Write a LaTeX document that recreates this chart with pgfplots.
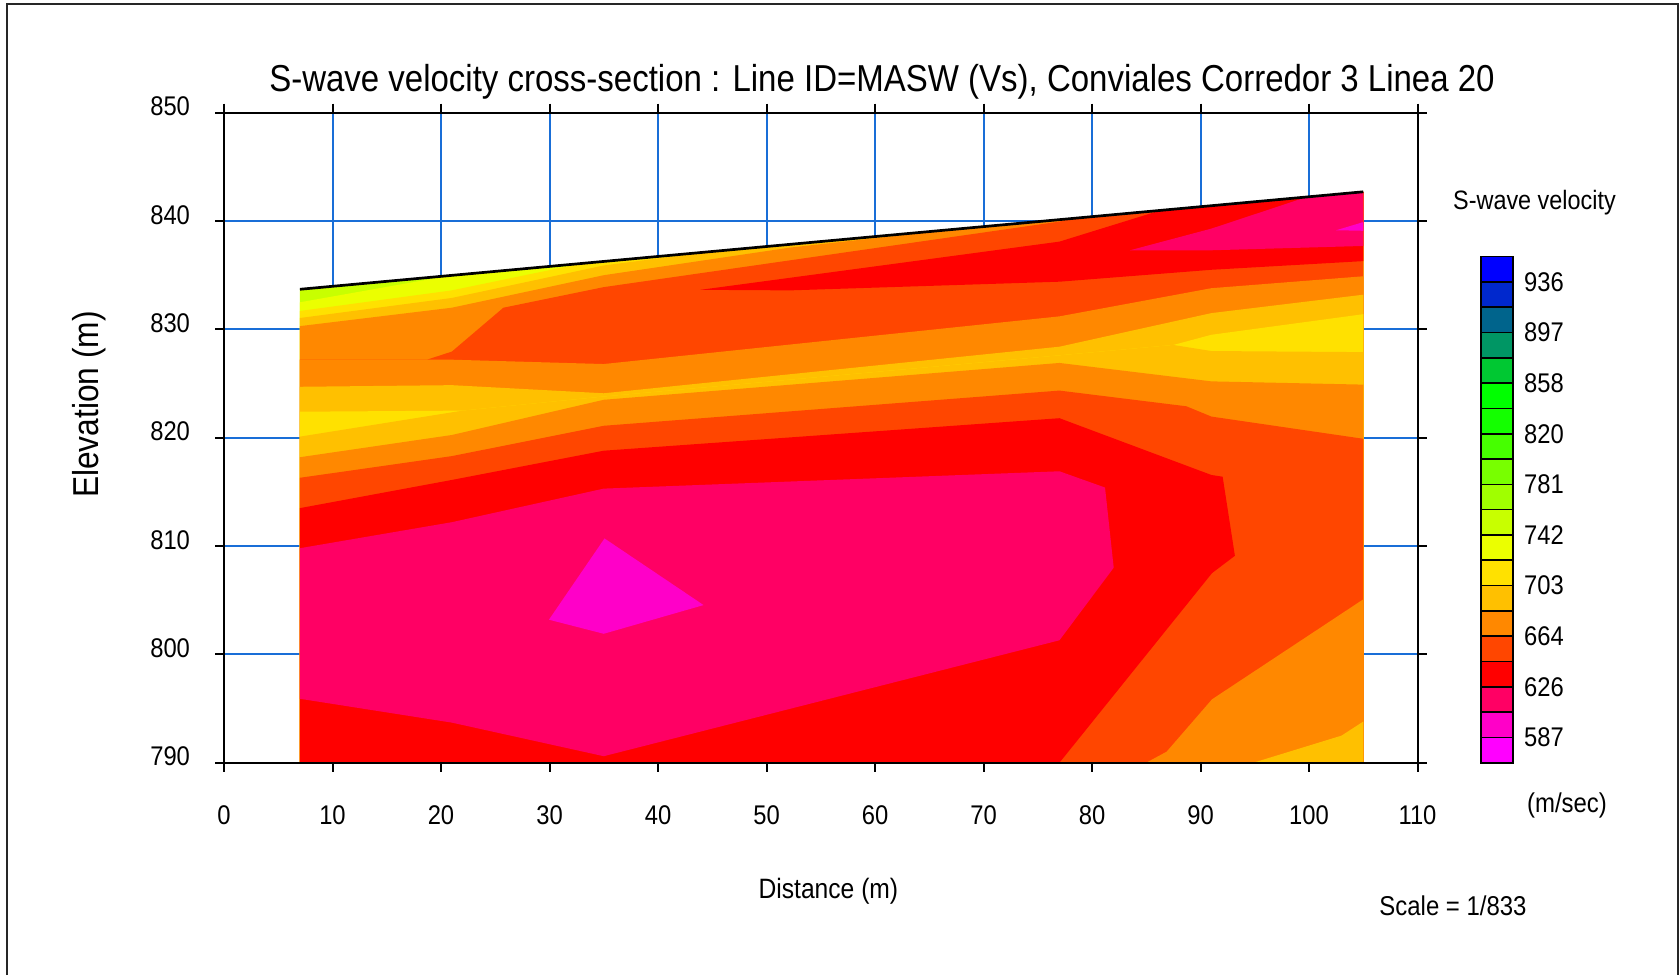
\documentclass[border=0pt]{standalone}
\usepackage{fontspec}
\setmainfont{Liberation Sans}[FakeStretch=0.88]
\usepackage{pgfplots}
\pgfplotsset{compat=1.18}

% velocity palette, fastest (blue) to slowest (magenta)
\definecolor{v01}{RGB}{0,0,255}
\definecolor{v02}{RGB}{0,40,205}
\definecolor{v03}{RGB}{0,100,140}
\definecolor{v04}{RGB}{0,150,100}
\definecolor{v05}{RGB}{0,200,50}
\definecolor{v06}{RGB}{0,255,0}
\definecolor{v07}{RGB}{20,255,0}
\definecolor{v08}{RGB}{70,255,0}
\definecolor{v09}{RGB}{120,255,0}
\definecolor{v10}{RGB}{160,255,0}
\definecolor{v11}{RGB}{200,255,0}
\definecolor{v12}{RGB}{235,255,0}
\definecolor{v13}{RGB}{255,225,0}
\definecolor{v14}{RGB}{255,192,0}
\definecolor{v15}{RGB}{255,136,0}
\definecolor{v16}{RGB}{255,70,0}
\definecolor{v17}{RGB}{255,0,0}
\definecolor{v18}{RGB}{255,0,100}
\definecolor{v19}{RGB}{255,0,200}
\definecolor{v20}{RGB}{255,0,255}
\definecolor{gridblue}{RGB}{25,110,215}

\newcommand{\tickfont}{\fontsize{13.5}{15}\selectfont}

\begin{document}
\begin{tikzpicture}
\path[use as bounding box] (0,0) rectangle (840pt,487.5pt);
\draw[line width=1pt, black!85] (3.35pt,0) -- (3.35pt,485.5pt) -- (839.1pt,485.5pt) -- (839.1pt,0);

\begin{axis}[
  at={(112pt,106.15pt)}, anchor=south west,
  scale only axis, width=596.75pt, height=325pt,
  clip=false,
  xmin=0, xmax=110, ymin=790, ymax=850,
  xtick={0,10,...,110}, ytick={790,800,...,850},
  grid=major,
  major grid style={color=gridblue, line width=1pt},
  axis line style={line width=1pt},
  tick align=outside, major tick length=4.5pt,
  tick style={black, line width=1pt},
  ticklabel style={font=\tickfont},
  xticklabel style={yshift=-13.6pt},
  yticklabel style={xshift=-9pt, yshift=3pt},
  /pgf/number format/assume math mode=true,
  /pgf/number format/1000 sep={},
]
% layered bands: each fills from its upper boundary down to the base
\addplot[draw=none, fill=v11] coordinates {(7,790) (7,833.7) (105,842.7) (105,790)} -- cycle;
\addplot[draw=none, fill=v12] coordinates {(7,832.5) (21,834.99) (105,842.7) (105,790) (7,790)} -- cycle;
\addplot[draw=none, fill=v13] coordinates {(7,831.7) (21,833.6) (33,836.09) (105,842.7) (105,790) (7,790)} -- cycle;
\addplot[draw=none, fill=v14] coordinates {(7,831.05) (21,832.9) (35,835.9) (45,837.19) (105,842.7) (105,790) (7,790)} -- cycle;
\addplot[draw=none, fill=v15] coordinates {(7,830.3) (21,832.0) (35,835.0) (52.17,837.55) (68,839.3) (105,842.7) (105,790) (7,790)} -- cycle;
\addplot[draw=none, fill=v16] coordinates {(7,827.2) (18.7,827.2) (21,827.95) (25.75,832.0) (35,833.9) (77,839.95) (78,840.22) (105,842.7) (105,790) (7,790)} -- cycle;
\addplot[draw=none, fill=v15] coordinates {(7,827.2) (21,827.2) (35,826.8) (77,831.2) (91,833.8) (105,834.9) (105,790) (7,790)} -- cycle;
\addplot[draw=none, fill=v14] coordinates {(7,824.7) (21,824.85) (35,824.1) (77,828.4) (91,831.5) (105,833.2) (105,790) (7,790)} -- cycle;
\addplot[draw=none, fill=v13] coordinates {(7,822.4) (22,822.5) (35,823.8) (77,827.6) (87.5,828.56) (91,829.5) (105,831.4) (105,790) (7,790)} -- cycle;
\addplot[draw=none, fill=v14] coordinates {(7,820.1) (22,822.5) (35,823.8) (77,827.6) (87.5,828.56) (91,828.0) (105,827.9) (105,790) (7,790)} -- cycle;
\addplot[draw=none, fill=v15] coordinates {(7,818.2) (21,820.25) (35,823.5) (77,826.9) (91,825.2) (105,824.9) (105,790) (7,790)} -- cycle;
\addplot[draw=none, fill=v16] coordinates {(7,816.3) (21,818.3) (35,821.1) (77,824.35) (88.7,822.9) (91,821.95) (105,819.9) (105,790) (7,790)} -- cycle;
% low-velocity body and its rim
\addplot[draw=none, fill=v17] coordinates {(7,813.5) (21,816.1) (35,818.8) (77,821.8) (91,816.56) (92.04,816.4) (93.17,809.1) (91.06,807.5) (77,790) (7,790)} -- cycle;
\addplot[draw=none, fill=v18] coordinates {(7,809.8) (21,812.2) (35,815.3) (77,816.9) (81.2,815.4) (82,808) (77,801.3) (35,790.6) (21,793.7) (7,795.9)} -- cycle;
\addplot[draw=none, fill=v19] coordinates {(35.07,810.7) (44.2,804.55) (35,801.9) (29.95,803.2)} -- cycle;
% faster material at the base on the east end
\addplot[draw=none, fill=v15] coordinates {(85,790) (86.88,791.02) (91.06,795.85) (105,805.08) (105,790)} -- cycle;
\addplot[draw=none, fill=v14] coordinates {(94.87,790) (103,792.5) (105,793.8) (105,790)} -- cycle;
% shallow slow wedge on the east end
\addplot[draw=none, fill=v17] coordinates {(43.9,833.65) (77,838.1) (86.3,840.98) (105,842.7) (105,836.3) (91,835.5) (77,834.4) (52.17,833.6)} -- cycle;
\addplot[draw=none, fill=v18] coordinates {(83.5,837.3) (91,839.3) (99.8,842.22) (105,842.7) (105,837.7) (91,837.3)} -- cycle;
\addplot[draw=none, fill=v19] coordinates {(102.5,839.15) (105,839.9) (105,839.1)} -- cycle;
% ground surface
\addplot[black, line width=1.35pt] coordinates {(7,833.7) (105,842.7)};
% base line redrawn over the section
\addplot[black, line width=1pt] coordinates {(0,790) (110,790)};
\end{axis}

% colour scale
\begin{axis}[
  at={(740.5pt,106.15pt)}, anchor=south west,
  scale only axis, width=16pt, height=253pt,
  xmin=0, xmax=1, ymin=0, ymax=20,
  axis line style={draw=none},
  xtick=\empty,
  ytick={1,3,...,19},
  yticklabels={587,626,664,703,742,781,820,858,897,936},
  yticklabel pos=right,
  major tick length=0pt,
  yticklabel style={font=\tickfont, xshift=2pt},
  clip=false,
]
\addplot[fill=v20, draw=black, line width=0.8pt] coordinates {(0,0) (1,0) (1,1) (0,1)} -- cycle;
\addplot[fill=v19, draw=black, line width=0.8pt] coordinates {(0,1) (1,1) (1,2) (0,2)} -- cycle;
\addplot[fill=v18, draw=black, line width=0.8pt] coordinates {(0,2) (1,2) (1,3) (0,3)} -- cycle;
\addplot[fill=v17, draw=black, line width=0.8pt] coordinates {(0,3) (1,3) (1,4) (0,4)} -- cycle;
\addplot[fill=v16, draw=black, line width=0.8pt] coordinates {(0,4) (1,4) (1,5) (0,5)} -- cycle;
\addplot[fill=v15, draw=black, line width=0.8pt] coordinates {(0,5) (1,5) (1,6) (0,6)} -- cycle;
\addplot[fill=v14, draw=black, line width=0.8pt] coordinates {(0,6) (1,6) (1,7) (0,7)} -- cycle;
\addplot[fill=v13, draw=black, line width=0.8pt] coordinates {(0,7) (1,7) (1,8) (0,8)} -- cycle;
\addplot[fill=v12, draw=black, line width=0.8pt] coordinates {(0,8) (1,8) (1,9) (0,9)} -- cycle;
\addplot[fill=v11, draw=black, line width=0.8pt] coordinates {(0,9) (1,9) (1,10) (0,10)} -- cycle;
\addplot[fill=v10, draw=black, line width=0.8pt] coordinates {(0,10) (1,10) (1,11) (0,11)} -- cycle;
\addplot[fill=v09, draw=black, line width=0.8pt] coordinates {(0,11) (1,11) (1,12) (0,12)} -- cycle;
\addplot[fill=v08, draw=black, line width=0.8pt] coordinates {(0,12) (1,12) (1,13) (0,13)} -- cycle;
\addplot[fill=v07, draw=black, line width=0.8pt] coordinates {(0,13) (1,13) (1,14) (0,14)} -- cycle;
\addplot[fill=v06, draw=black, line width=0.8pt] coordinates {(0,14) (1,14) (1,15) (0,15)} -- cycle;
\addplot[fill=v05, draw=black, line width=0.8pt] coordinates {(0,15) (1,15) (1,16) (0,16)} -- cycle;
\addplot[fill=v04, draw=black, line width=0.8pt] coordinates {(0,16) (1,16) (1,17) (0,17)} -- cycle;
\addplot[fill=v03, draw=black, line width=0.8pt] coordinates {(0,17) (1,17) (1,18) (0,18)} -- cycle;
\addplot[fill=v02, draw=black, line width=0.8pt] coordinates {(0,18) (1,18) (1,19) (0,19)} -- cycle;
\addplot[fill=v01, draw=black, line width=0.8pt] coordinates {(0,19) (1,19) (1,20) (0,20)} -- cycle;
\end{axis}

% titles and annotations
\node[anchor=base, font=\fontsize{18.75}{21}\selectfont] at (441pt,441.65pt)
  {S-wave velocity cross-section : Line ID=MASW (Vs), Conviales Corredor 3 Linea 20};
\node[rotate=90, font=\fontsize{18}{20}\selectfont] at (44.5pt,285.25pt) {Elevation (m)};
\node[font=\fontsize{14}{16}\selectfont] at (414.2pt,42pt) {Distance (m)};
\node[font=\fontsize{13.3}{15}\selectfont] at (767.25pt,386.3pt) {S-wave velocity};
\node[font=\fontsize{13.6}{15}\selectfont] at (783.5pt,85pt) {(m/sec)};
\node[font=\fontsize{13.6}{15}\selectfont] at (726.5pt,34.5pt) {Scale = 1/833};
\end{tikzpicture}
\end{document}
